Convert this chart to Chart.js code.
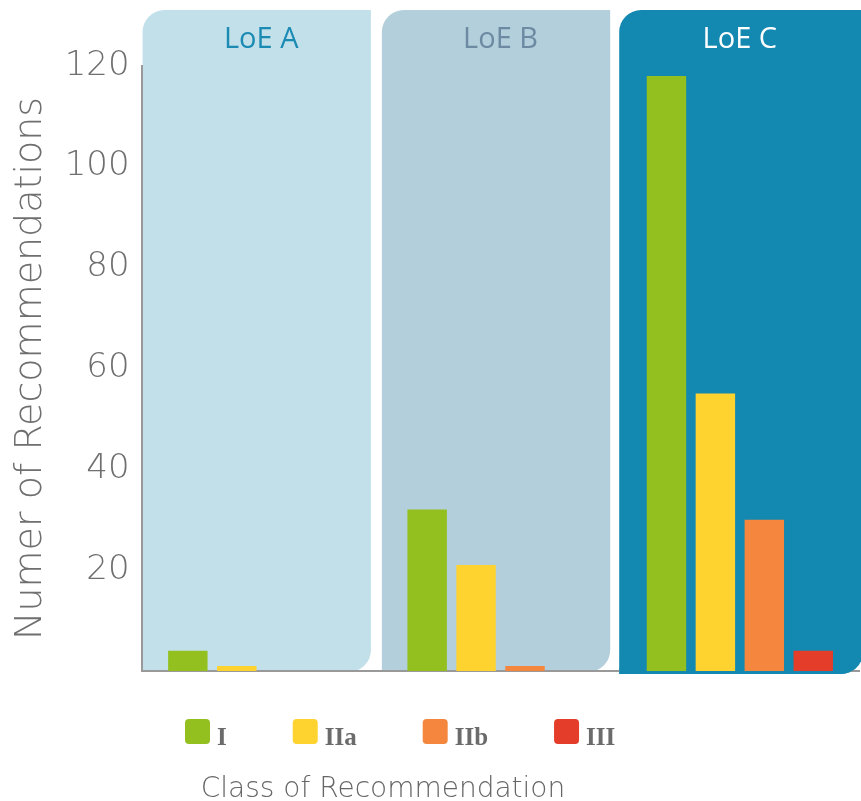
<!DOCTYPE html>
<html>
<head>
<meta charset="utf-8">
<script src="https://cdn.jsdelivr.net/npm/chart.js@4/dist/chart.umd.min.js"></script>
<style>
  html, body { margin: 0; padding: 0; background: #ffffff; }
  #wrap { width: 861px; height: 801px; }
</style>
</head>
<body>
<div id="wrap"><canvas id="c" width="861" height="801"></canvas></div>
<script>
// ---- data ----
const levels = ['LoE A', 'LoE B', 'LoE C'];
const classes = ['I', 'IIa', 'IIb', 'III'];
const classI   = [4, 32, 118];
const classIIa = [1, 21, 55];
const classIIb = [0, 1, 30];
const classIII = [0, 0, 4];
const yTickValues = [20, 40, 60, 80, 100, 120];
const yTitle = 'Numer of Recommendations';
const xTitle = 'Class of Recommendation';

// ---- styles ----
const classColors = ['#93c01f', '#fed330', '#f4873d', '#e43d2a'];
const panelColors = ['#c1e0ea', '#b3cfdb', '#1388b0'];
const levelTextColors = ['#1b8bb4', '#6d8aa3', '#ffffff'];
const seriesValues = [classI, classIIa, classIIb, classIII];
const lightFont = '"DejaVu Sans", "Open Sans", sans-serif';

function panelPath(ctx, l, t, r, b, rad) {
  ctx.beginPath();
  ctx.moveTo(l, t + rad);
  ctx.arcTo(l, t, l + rad, t, rad);
  ctx.lineTo(r, t);
  ctx.lineTo(r, b - rad);
  ctx.arcTo(r, b, r - rad, b, rad);
  ctx.lineTo(l, b);
  ctx.closePath();
}

function panelRects(chart) {
  const x = chart.scales.x, y = chart.scales.y;
  const n = levels.length;
  const cw = x.width / n;
  const y0 = y.getPixelForValue(0);
  return levels.map((lv, i) => {
    const cx = x.getPixelForValue(i);
    const last = i === n - 1;
    return {
      l: cx - cw / 2 + (last ? -1 : 1),
      r: last ? chart.width + 2 : cx + cw / 2 - 10,
      t: 10,
      b: y0 + (last ? 3 : 1)
    };
  });
}

const panelPlugin = {
  id: 'loePanels',
  beforeDraw(chart) {
    const ctx = chart.ctx;
    ctx.save();
    panelRects(chart).forEach((p, i) => {
      panelPath(ctx, p.l, p.t, p.r, p.b, 22);
      ctx.fillStyle = panelColors[i];
      ctx.fill();
    });
    ctx.restore();
  },
  beforeDatasetsDraw(chart) {
    const ctx = chart.ctx;
    const rects = panelRects(chart);
    const p = rects[rects.length - 1];
    const y0 = chart.scales.y.getPixelForValue(0);
    ctx.save();
    ctx.beginPath();
    ctx.rect(p.l, y0 - 3, p.r - p.l + 2, 10);
    ctx.clip();
    panelPath(ctx, p.l, p.t, p.r, p.b, 22);
    ctx.fillStyle = panelColors[rects.length - 1];
    ctx.fill();
    ctx.restore();
  }
};

const legendPlugin = {
  id: 'corLegend',
  afterDraw(chart) {
    const ctx = chart.ctx;
    ctx.save();
    ctx.font = 'bold 25px "Liberation Serif", "DejaVu Serif", serif';
    ctx.textAlign = 'left';
    ctx.textBaseline = 'alphabetic';
    let x = 185;
    const boxTop = 719, box = 25;
    chart.data.datasets.forEach(ds => {
      ctx.fillStyle = ds.backgroundColor;
      ctx.beginPath();
      ctx.roundRect(x, boxTop, box, box, 4);
      ctx.fill();
      ctx.fillStyle = '#6b6b6b';
      ctx.fillText(ds.label, x + box + 7, 745);
      x += box + 7 + ctx.measureText(ds.label).width + 66;
    });
    ctx.font = '200 28px ' + lightFont;
    ctx.fillStyle = '#666666';
    ctx.textAlign = 'center';
    ctx.fillText(xTitle, 383, 797);
    ctx.restore();
  }
};

const chart = new Chart(document.getElementById('c'), {
  type: 'bar',
  data: {
    labels: levels,
    datasets: classes.map((c, i) => ({
      label: c,
      data: seriesValues[i],
      backgroundColor: classColors[i],
      borderWidth: 0,
      categoryPercentage: 0.818,
      barPercentage: 0.806
    }))
  },
  options: {
    responsive: false,
    animation: false,
    devicePixelRatio: 1,
    layout: { padding: { left: 4, top: 13, right: 1.5, bottom: 130 } },
    plugins: { legend: { display: false }, tooltip: { enabled: false } },
    scales: {
      x: {
        type: 'category',
        grid: { display: false, drawTicks: false },
        ticks: { display: false },
        border: { display: true, color: '#999999', width: 2 }
      },
      x2: {
        type: 'category',
        position: 'top',
        offset: true,
        labels: levels,
        grid: { display: false, drawTicks: false },
        border: { display: false },
        ticks: {
          padding: 9,
          color: levelTextColors,
          font: { family: '"Open Sans", "Noto Sans", sans-serif', size: 29, weight: '400' }
        }
      },
      y: {
        min: 0,
        max: 120,
        afterBuildTicks(scale) { scale.ticks = [0].concat(yTickValues).map(v => ({ value: v })); },
        grid: { display: false, drawTicks: false },
        border: { display: true, color: '#999999', width: 2 },
        ticks: {
          padding: 12,
          color: '#6f6f6f',
          font: { family: lightFont, size: 34, weight: '200' },
          callback: v => (v === 0 ? '' : v)
        },
        title: {
          display: true,
          text: yTitle,
          color: '#6f6f6f',
          padding: { top: 5, bottom: 0 },
          font: { family: lightFont, size: 38, weight: '200', lineHeight: 1.15 }
        }
      }
    }
  },
  plugins: [panelPlugin, legendPlugin]
});
</script>
</body>
</html>
